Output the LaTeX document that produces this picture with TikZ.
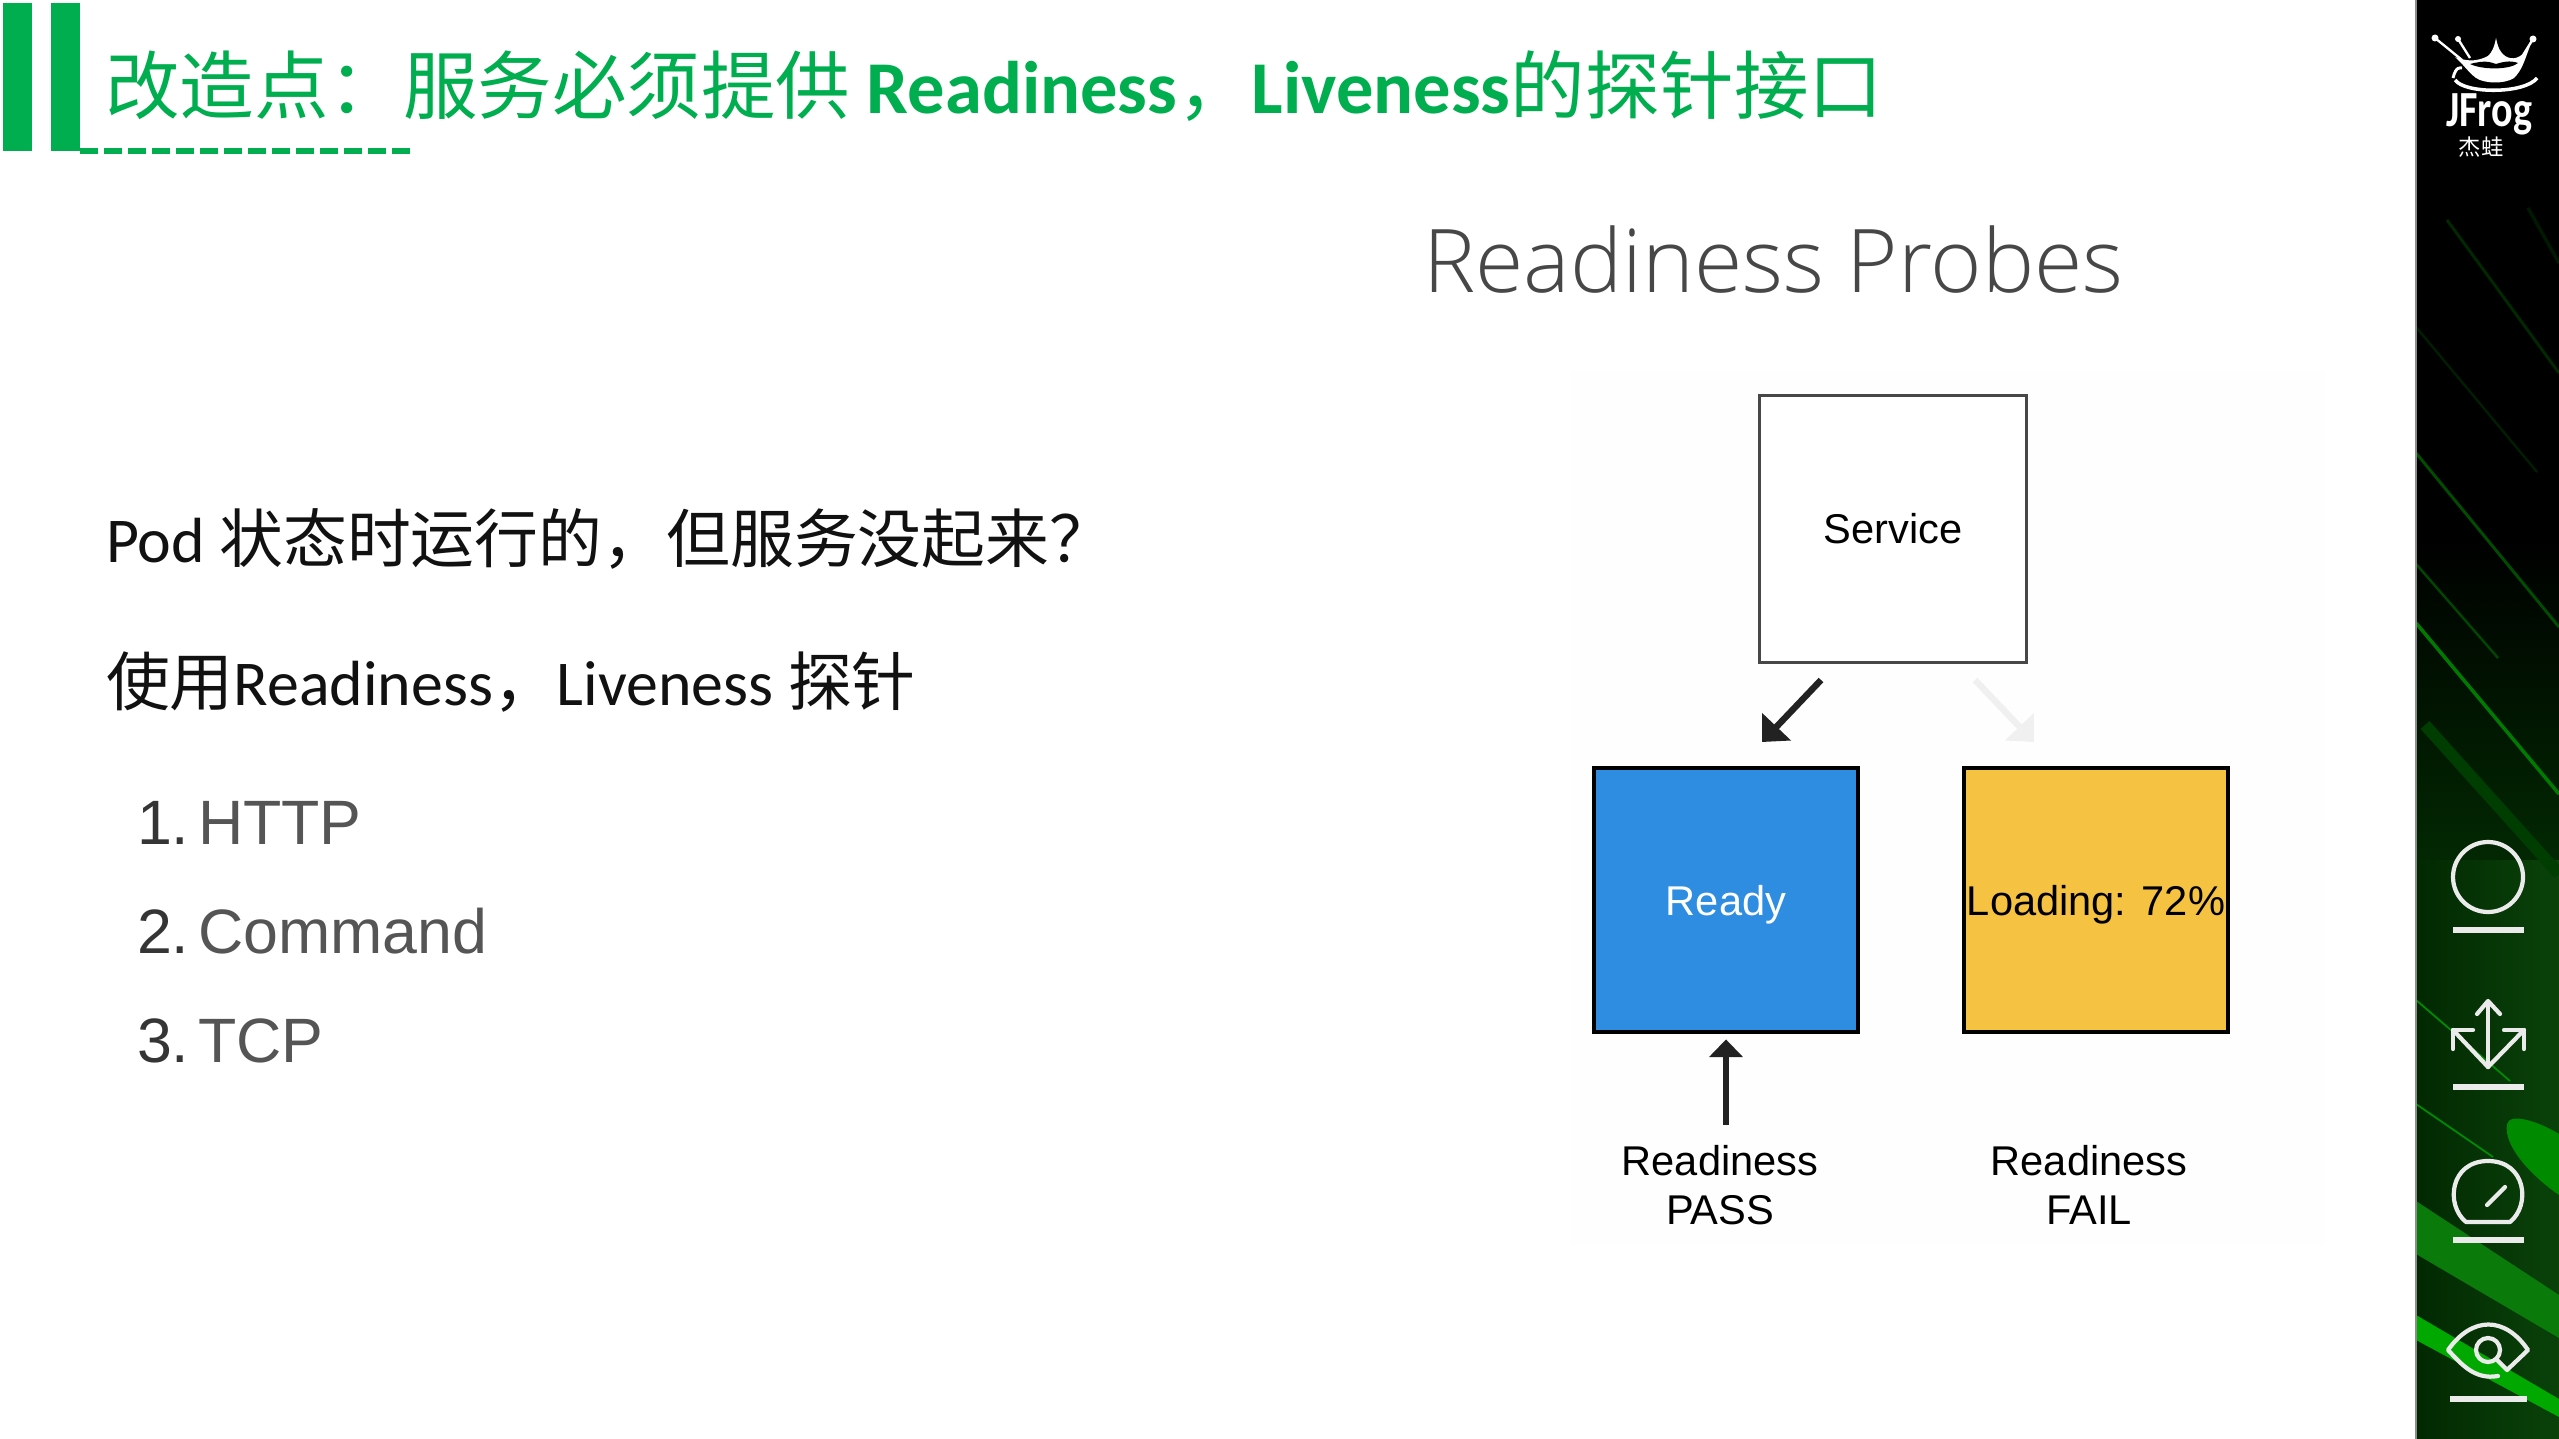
\documentclass[tikz,border=0pt]{standalone}
\usepackage{fontspec}
\setmainfont{Carlito}
\newfontfamily\cjk{Noto Sans CJK SC}
\newfontfamily\rb{Liberation Sans}
\newfontfamily\lt{Open Sans Light}
\usetikzlibrary{arrows.meta}
\definecolor{ttl}{HTML}{00AE4F}
\definecolor{txt}{HTML}{111111}
\definecolor{lst}{HTML}{555555}
\definecolor{blu}{HTML}{2E8DE0}
\definecolor{yel}{HTML}{F5C242}
\definecolor{dk}{HTML}{222222}
\definecolor{sideA}{HTML}{022802}
\definecolor{sideB}{HTML}{0A420A}
\definecolor{bandB}{HTML}{0A7A0A}
\definecolor{bandC}{HTML}{00A800}
\definecolor{blob}{HTML}{008A00}
\tikzset{
 x=0.03cm,y=-0.03cm,
 sq/.style={line width=3.4pt,minimum width=226pt,minimum height=226pt,inner sep=0pt,outer sep=0pt,font=\rb\fontsize{35.5}{36}\selectfont},
 plain/.style={inner sep=0pt,outer sep=0pt,anchor=base west},
 lbl/.style={inner sep=0pt,outer sep=0pt,align=center,font=\rb\fontsize{35.5}{42}\selectfont,text=black},
 arr/.style={line width=5.5pt,-{Triangle[length=18pt,width=33pt]}},
 arrup/.style={line width=5pt,-{Triangle[length=15pt,width=28pt]}},
 icon/.style={draw=white!92!black,line width=3.6pt,line cap=round,line join=round},
 rule/.style={draw=white!92!black,line width=4.5pt},
}
\begin{document}
\begin{tikzpicture}
\useasboundingbox (0,0) rectangle (2559,1439);
\fill[white] (0,0) rectangle (2559,1439);
\fill[black!0.4] (1570,370) rectangle (2325,1245);
% title bars
\fill[ttl] (3,3) rectangle (32,151);
\fill[ttl] (51,3) rectangle (80,151);
\coordinate (ds) at (80,151);
\coordinate (de) at (410,151);
\draw[ttl,line width=5pt,dash pattern=on 15.6pt off 4.9pt] (ds) -- (de);
\node[plain] (title) at (105,113.5) {\color{ttl}\fontsize{63.6}{64}\selectfont\cjk 改造点：服务必须提供 \rmfamily\bfseries Readiness\mdseries\cjk，\rmfamily\bfseries Liveness\mdseries\cjk 的探针接口};
% sidebar
\begin{scope}
\clip (2416,0) rectangle (2559,1439);
\fill[black] (2416,0) rectangle (2559,1439);
\shade[top color=black,bottom color=sideA] (2416,540) rectangle (2559,860);
\fill[sideA] (2416,860) rectangle (2559,1439);
\shade[left color=sideA,right color=sideB] (2416,860) rectangle (2559,1439);
\draw[green!16!black,line width=2.5pt] (2447,220) -- (2559,373);
\draw[green!10!black,line width=3pt] (2528,208) -- (2559,263);
\draw[green!12!black,line width=2pt] (2416,327) -- (2537,472);
\draw[green!30!black,line width=2.5pt] (2416,453) -- (2559,627);
\draw[green!28!black,line width=2pt] (2416,564) -- (2498,658);
\draw[green!48!black,line width=3pt] (2416,623) -- (2559,794);
\draw[green!24!black,line width=10pt] (2425,725) -- (2559,874);
\draw[green!55!black,line width=1.5pt] (2416,1000) -- (2510,1081);
\draw[green!55!black,line width=1.5pt] (2416,1104) -- (2493,1157);
\fill[blob] (2507,1124) .. controls (2510,1112) and (2540,1122) .. (2559,1134) -- (2559,1195) .. controls (2530,1175) and (2503,1145) .. (2507,1124) -- cycle;
\fill[bandB] (2416,1201) -- (2559,1295) -- (2559,1338) -- (2416,1254) -- cycle;
\fill[bandC] (2416,1315) -- (2559,1399) -- (2559,1417) -- (2416,1340) -- cycle;
\end{scope}
\draw[black!45,line width=1pt] (2416,0) -- (2416,1439);
% logo
\begin{scope}
\fill[white] (2455,57) .. controls (2470,63) and (2480,60) .. (2488,56) .. controls (2492,52) and (2494,48) .. (2496,38) .. controls (2498,48) and (2500,52) .. (2505,56) .. controls (2512,60) and (2520,60) .. (2530,46) .. controls (2524,62) and (2522,70) .. (2514,78) .. controls (2505,84) and (2485,84) .. (2476,78) .. controls (2468,72) and (2464,65) .. (2455,57) -- cycle;
\fill[black] (2470,64) .. controls (2485,60) and (2490,62) .. (2496,64) .. controls (2502,62) and (2510,60) .. (2518,63) .. controls (2510,70) and (2482,70) .. (2470,64) -- cycle;
\draw[white,line width=2pt] (2435,38) -- (2462,60);
\draw[white,line width=2pt] (2458,39) -- (2470,58);
\draw[white,line width=2pt] (2533,39) -- (2520,60);
\fill[white] (2435,38) circle (3.5);
\fill[white] (2458,39) circle (3);
\fill[white] (2533,39) circle (3.5);
\draw[white,line width=2.5pt] (2453,78) .. controls (2456,66) and (2460,68) .. (2462,68);
\draw[white,line width=3pt] (2455,80) .. controls (2465,94) and (2525,94) .. (2537,78);
\node[inner sep=0pt,text=white] (jf) at (2489,114) {\scalebox{0.95}[1.2]{\fontsize{36}{36}\selectfont\bfseries JFrog}};
\node[inner sep=0pt,text=white] (jw) at (2481,147) {\cjk\fontsize{19}{19}\selectfont 杰蛙};
\end{scope}
% icons
\draw[icon] (2488,877) circle (35);
\draw[rule] (2453,930) -- (2524,930);
\draw[icon] (2488,1067) -- (2488,1002);
\draw[icon] (2477,1014) -- (2488,1001) -- (2500,1014);
\draw[icon] (2488,1067) -- (2453,1030);
\draw[icon] (2453,1049) -- (2453,1030) -- (2473,1030);
\draw[icon] (2488,1067) -- (2524,1030);
\draw[icon] (2504,1030) -- (2524,1030) -- (2524,1049);
\draw[rule] (2453,1087) -- (2524,1087);
\draw[icon] (2466,1222) .. controls (2445,1205) and (2450,1161) .. (2488,1161) .. controls (2526,1161) and (2531,1205) .. (2510,1222) -- cycle;
\draw[icon] (2487,1205) -- (2505,1187);
\draw[rule] (2453,1240) -- (2524,1240);
\draw[icon] (2498,1376) .. controls (2475,1380) and (2462,1365) .. (2448,1350) .. controls (2472,1316) and (2505,1316) .. (2528,1350) -- (2507,1370) -- (2497,1360);
\draw[icon] (2488,1350) circle (12);
\draw[rule] (2450,1399) -- (2527,1399);
% body text
\node[plain] (t1) at (106,562) {\color{txt}\fontsize{54.5}{55}\selectfont Pod \cjk 状态时运行的，但服务没起来？};
\node[plain] (t2) at (106,705) {\color{txt}\fontsize{54.5}{55}\selectfont\cjk 使用\rmfamily Readiness\cjk，\rmfamily Liveness \cjk 探针};
\node[plain] (l1) at (137,844) {\rb\fontsize{53.5}{54}\selectfont\color{txt!85!white}1.\hspace{0.14em}\color{lst}HTTP};
\node[plain] (l2) at (137,953) {\rb\fontsize{53.5}{54}\selectfont\color{txt!85!white}2.\hspace{0.14em}\color{lst}Command};
\node[plain] (l3) at (137,1062) {\rb\fontsize{53.5}{54}\selectfont\color{txt!85!white}3.\hspace{0.14em}\color{lst}TCP};
% heading
\node[plain] (hd) at (1423,292) {\lt\fontsize{75}{76}\selectfont\color{black!72}Readiness Probes};
% boxes
\node[sq,draw=black!72,fill=white,minimum width=228pt,minimum height=228pt,line width=3pt] (svc) at (1893,529) {Service};
\node[sq,draw=black,fill=blu,text=white] (ready) at (1726,900) {\raisebox{-13pt}[0pt][0pt]{Ready}};
\node[sq,draw=black,fill=yel,text=black] (load) at (2096,900) {\raisebox{-13pt}[0pt][0pt]{Loading: 72\%}};
\node[lbl] (pass) at (1720,1185) {Readiness\\ PASS};
\node[lbl] (fail) at (2089,1185) {Readiness\\ FAIL};
% connectors
\coordinate (a1) at (1821,680);
\coordinate (a2) at (1762,742);
\coordinate (b1) at (1975,680);
\coordinate (b2) at (2034,742);
\coordinate (c1) at (1726,1125);
\draw[arr,draw=dk,fill=dk] (a1) -- (a2);
\draw[arr,draw=black!6,fill=black!6] (b1) -- (b2);
\draw[arrup,draw=dk,fill=dk,shorten >=6pt] (c1) -- (ready.south);
\end{tikzpicture}
\end{document}
